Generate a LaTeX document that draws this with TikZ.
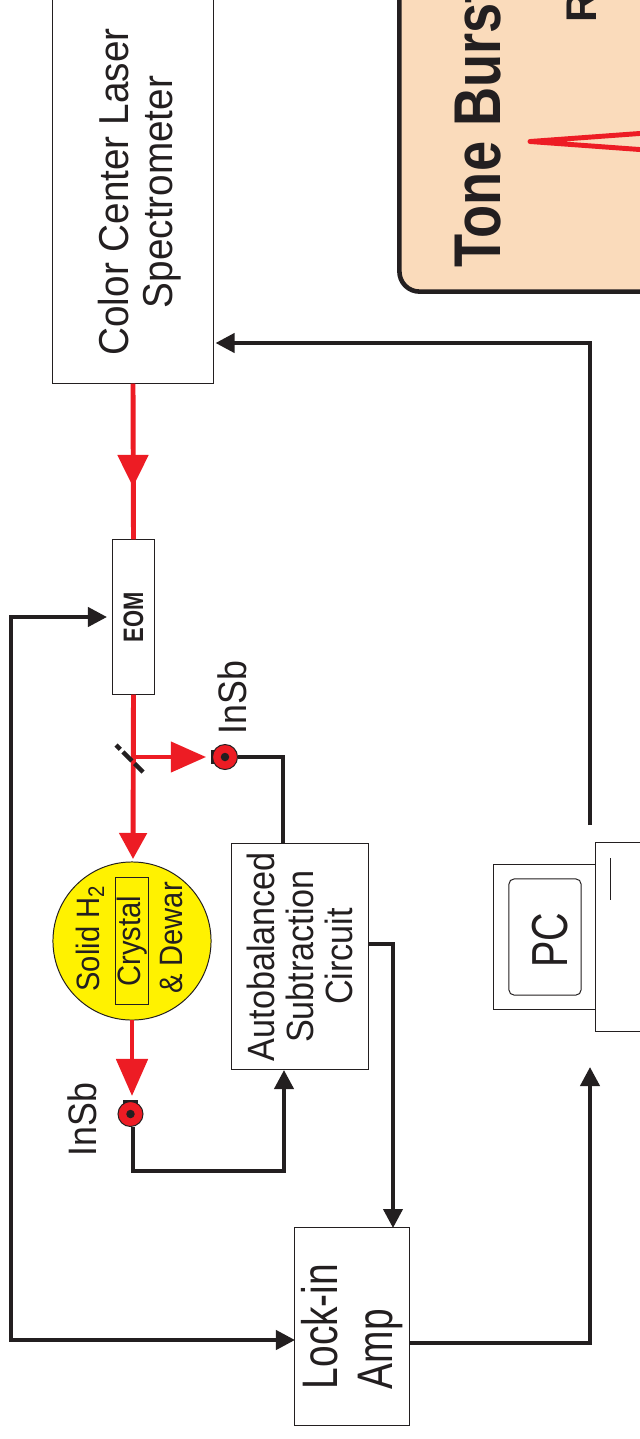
\documentclass[tikz,border=0pt]{standalone}
\usepackage{fontspec}
\usepackage{tikz}
\usepackage{xcolor}
\usetikzlibrary{arrows.meta}
\setmainfont{Liberation Sans}
\newfontfamily\labelfont[FakeStretch=0.9]{Liberation Sans}
\newfontfamily\laserfont[FakeStretch=0.925]{Liberation Sans}
\newfontfamily\tonefont[FakeStretch=0.82]{Liberation Sans}
\newfontfamily\narrowfont[FakeStretch=0.78]{Liberation Sans}
\definecolor{beamred}{HTML}{ED1C24}
\definecolor{inkblack}{HTML}{231F20}
\definecolor{dewaryellow}{HTML}{FFF200}
\definecolor{tonetan}{HTML}{FADBBB}
\begin{document}
\begin{tikzpicture}
  [
    x=0.01cm, y=-0.01cm,
    % estilos de cajas, textos y lineas
    box/.style={draw=inkblack, line width=0.28pt, fill=white, inner sep=0pt, rotate=90, align=center, text=inkblack, font=\labelfont},
    plainbox/.style={draw=inkblack, line width=0.28pt, fill=white, inner sep=0pt},
    label/.style={inner sep=0pt, rotate=90, align=center, text=inkblack, font=\labelfont},
    wire/.style={draw=inkblack, line width=1.15pt, miter limit=4},
    wiretip/.style={wire, -{Triangle[length=1.9mm, width=1.9mm]}},
    beam/.style={draw=beamred, line width=1.4pt},
    beamtip/.style={beam, -{Triangle[length=3.2mm, width=3mm]}},
    detector/.style={circle, draw=inkblack, line width=0.28pt, fill=beamred, minimum size=0.25cm, inner sep=0pt},
    dot/.style={circle, fill=inkblack, minimum size=0.085cm, inner sep=0pt},
    bar/.style={fill=inkblack, inner sep=0pt}
  ]
  \useasboundingbox (0,0) rectangle (639,1439);
  \fill[white] (0,0) rectangle (639,1439);

  % Tone burst
  \node[draw=inkblack, line width=1.3pt, fill=tonetan, rounded corners=0.2cm, inner sep=0pt,
        minimum width=2.8cm, minimum height=3.2cm] (tone) at (539.5,131.5) {};
  \node[label, anchor=base west, font=\tonefont\bfseries\fontsize{18.8}{20}\selectfont] (tonetext) at (500,268) {Tone Burst};
  \node[label, anchor=base west, font=\bfseries\fontsize{12.2}{14}\selectfont] (tonesub) at (596,23) {R};
  \draw[beamred, line width=1.4pt, line join=round] (660,132) -- (530,141.5) -- (660,151);

  % Cajas
  \node[box, minimum width=3.88cm, minimum height=1.6cm] (laser) at (133,189) {};
  \node[label, font=\laserfont\fontsize{11.9}{12.5}\selectfont] (lasertext) at (140,192) {Color Center Laser\\Spectrometer};
  \node[box, minimum width=1.54cm, minimum height=0.41cm, font=\narrowfont\bfseries\fontsize{8}{9}\selectfont] (eom) at (133.5,617) {EOM};
  \node[box, minimum width=2.25cm, minimum height=1.36cm, font=\labelfont\fontsize{10.8}{11.1}\selectfont] (autobal) at (300,956.5) {Autobalanced\\Subtraction\\Circuit};
  \node[box, minimum width=1.97cm, minimum height=1.14cm, align=left, font=\narrowfont\fontsize{14.2}{15.5}\selectfont] (lockin) at (352,1326.5) {Lock-in\\Amp};

  % Criostato
  \node[circle, draw=inkblack, line width=0.28pt, fill=dewaryellow, minimum size=1.58cm, inner sep=0pt] (dewar) at (132,941) {};
  \node[draw=inkblack, line width=0.28pt, rotate=90, inner sep=0pt, minimum width=1.26cm, minimum height=0.32cm, font=\labelfont\fontsize{9.2}{10}\selectfont, text=inkblack] (crystal) at (132,941) {Crystal};
  \node[label, font=\labelfont\fontsize{9.2}{10}\selectfont] (solid) at (90,938) {Solid H\textsubscript{2}};
  \node[label, font=\labelfont\fontsize{9.2}{10}\selectfont] (dewartext) at (171,938) {\& Dewar};

  % Detectores
  \node[bar, minimum width=0.04cm, minimum height=0.14cm] (barone) at (213,757) {};
  \node[detector] (insbone) at (225,757) {};
  \node[dot] at (insbone) {};
  \node[label, anchor=base west, font=\labelfont\fontsize{11.3}{12}\selectfont] (insbonetext) at (246,735) {InSb};
  \node[bar, minimum width=0.14cm, minimum height=0.05cm] (bartwo) at (130.5,1102.5) {};
  \node[detector] (insbtwo) at (130.5,1114) {};
  \node[dot] at (insbtwo) {};
  \node[label, anchor=base west, font=\labelfont\fontsize{11.3}{12}\selectfont] (insbtwotext) at (96,1157) {InSb};

  % PC
  \node[plainbox, minimum width=1.02cm, minimum height=1.44cm] (monitor) at (545,937) {};
  \node[plainbox, rounded corners=0.05cm, minimum width=0.72cm, minimum height=1.16cm] (screen) at (545,937) {};
  \node[label, font=\narrowfont\fontsize{14.4}{16}\selectfont] (pc) at (550,940) {PC};
  \node[plainbox, minimum width=0.6cm, minimum height=1.88cm] (base) at (626,937) {};
  \coordinate (slotone) at (610,858);
  \coordinate (slottwo) at (610,900);
  \draw[inkblack, line width=0.28pt] (slotone) -- (slottwo);

  % Haz
  \coordinate (beammid) at (133,487);
  \coordinate (splitter) at (133,757);
  \coordinate (mirrorone) at (116,745);
  \coordinate (mirrortwo) at (143,772);
  \draw[beam] (laser.west) -- (eom.east);
  \draw[beamtip] (laser.west) -- (beammid);
  \draw[beam, -{Triangle[length=2.6mm, width=2.7mm]}] (eom.west) -- (133,859);
  \draw[beam, line width=1.1pt, -{Triangle[length=3.5mm, width=3mm]}] (splitter) -- ([xshift=-0.06cm]insbone.west);
  \draw[beam, -{Triangle[length=3.7mm, width=3.1mm]}] (132,1020) -- (132,1096);
  \draw[inkblack, line width=1.3pt, dash pattern=on 0.6mm off 0.38mm on 1.27mm off 0.38mm on 1.27mm] (mirrorone) -- (mirrortwo);

  % Senales
  \coordinate (pcout) at (590,825);
  \coordinate (pcin) at (590,1067);
  \draw[wiretip] (pcout) |- ([shift={(2,154)}]laser.south);
  \draw[wire] (insbone.east) -| (283,844);
  \draw[wiretip] ([xshift=0.025cm]insbtwo.south) |- (284,1171) -- (284,1070);
  \draw[wiretip] ([yshift=0.125cm]autobal.south) -| (393,1228);
  \draw[wiretip] (lockin.south |- 0,1343) -| (pcin);
  \draw[wire, {Triangle[length=1.9mm, width=1.9mm]}-{Triangle[length=1.9mm, width=1.9mm]}] (295,1340) -- (11,1340) |- (107,617);
\end{tikzpicture}
\end{document}
